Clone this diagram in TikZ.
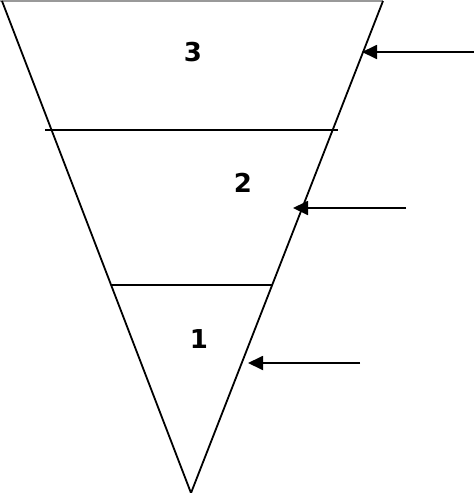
\documentclass[tikz,border=0pt]{standalone}
\usepackage{fontspec}
\setmainfont{DejaVu Sans}
\usetikzlibrary{arrows.meta}
\begin{document}
\begin{tikzpicture}[x=1pt,y=-1pt,
  edge/.style={line width=1.8pt},
  level/.style={line width=1.6pt},
  pointer/.style={line width=1.8pt,-{Triangle[length=15pt,width=14pt]}},
  num/.style={font=\bfseries\fontsize{26}{26}\selectfont,inner sep=0pt}]
\useasboundingbox (0,0) rectangle (474,493);
\coordinate (tl) at (2,1);
\coordinate (tr) at (383,1);
\coordinate (ap) at (191,493);
\draw[gray!80,line width=2pt] (0,1) -- (tr);
\draw[edge] (tl) -- (ap) -- (tr);
\coordinate (l3a) at (45,130);
\coordinate (l3b) at (338,130);
\coordinate (l2a) at (112,285);
\coordinate (l2b) at (272,285);
\draw[level] (l3a) -- (l3b);
\draw[level] (l2a) -- (l2b);
\node[num] (n3) at (193,52) {3};
\node[num] (n2) at (243,183) {2};
\node[num] (n1) at (199,339) {1};
\coordinate (a3s) at (474,52);
\coordinate (a3e) at (362,52);
\coordinate (a2s) at (406,208);
\coordinate (a2e) at (293,208);
\coordinate (a1s) at (360,363);
\coordinate (a1e) at (248,363);
\draw[pointer] (a3s) -- (a3e);
\draw[pointer] (a2s) -- (a2e);
\draw[pointer] (a1s) -- (a1e);
\end{tikzpicture}
\end{document}
